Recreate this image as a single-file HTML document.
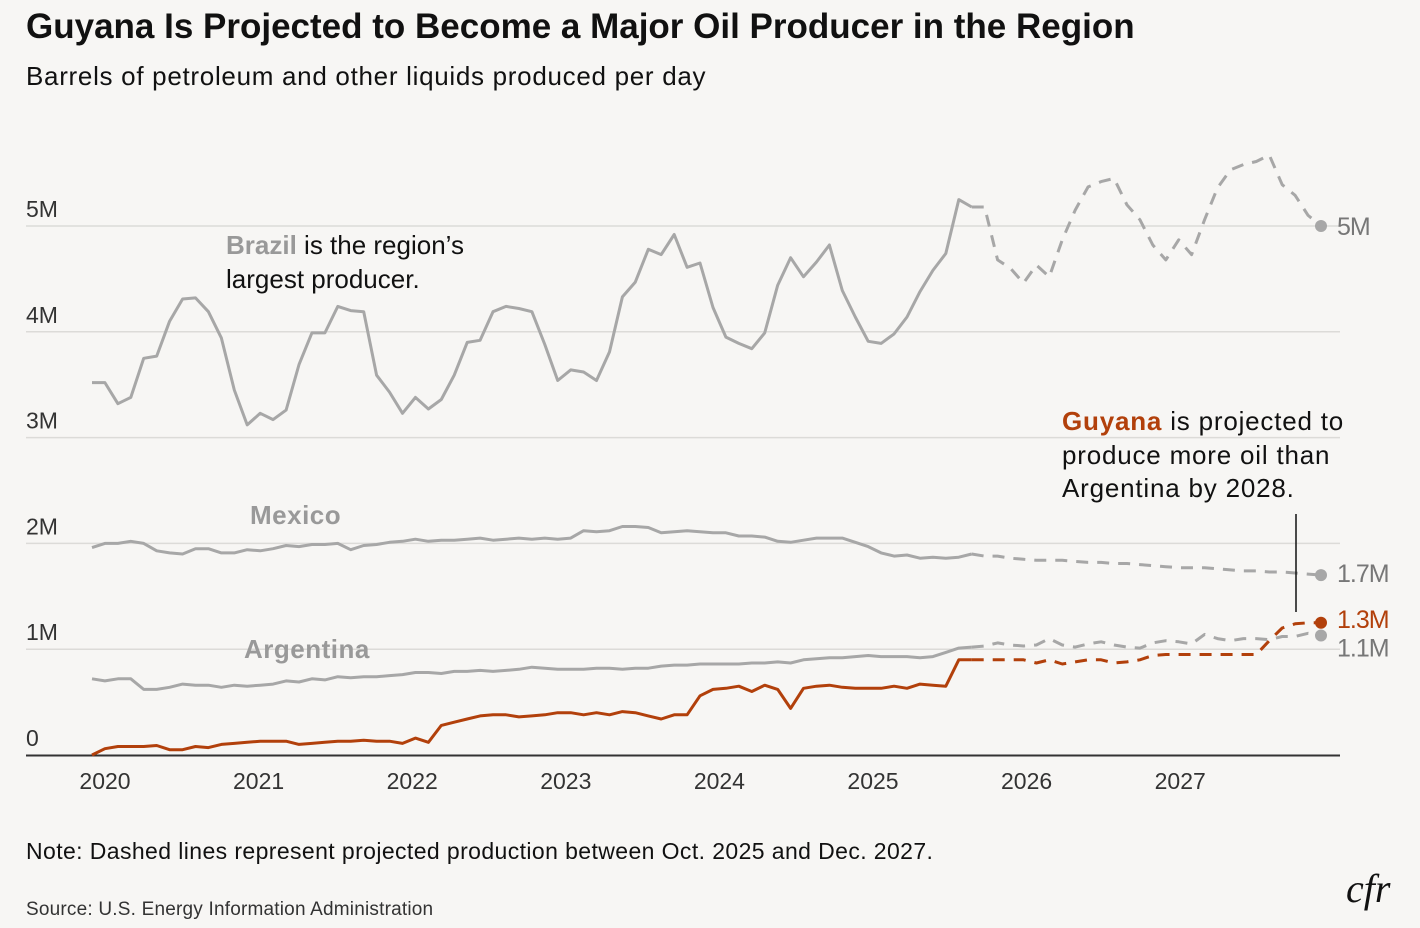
<!DOCTYPE html>
<html><head><meta charset="utf-8"><style>
body{margin:0;background:#f7f6f4;width:1420px;height:928px;overflow:hidden;font-family:"Liberation Sans",sans-serif;}
svg{display:block}
</style></head><body>
<svg id="c" width="1420" height="928">
<text x="26" y="38" font-size="35" font-weight="bold" fill="#111" letter-spacing="0">Guyana Is Projected to Become a Major Oil Producer in the Region</text>
<text x="26" y="85" font-size="26" fill="#111" letter-spacing="0.7">Barrels of petroleum and other liquids produced per day</text>
<g id="grid"></g><g id="series"></g>
<text x="226" y="254" font-size="26" letter-spacing="0"><tspan font-weight="bold" fill="#999">Brazil</tspan><tspan fill="#111"> is the region’s</tspan><tspan x="226" dy="34" fill="#111">largest producer.</tspan></text>
<text x="250" y="524" font-size="26" font-weight="bold" fill="#999" letter-spacing="0.5">Mexico</text>
<text x="244" y="658" font-size="26" font-weight="bold" fill="#999" letter-spacing="0.5">Argentina</text>
<text x="1062" y="430" font-size="26" letter-spacing="0.8"><tspan font-weight="bold" fill="#b2400b">Guyana</tspan><tspan fill="#111"> is projected to</tspan><tspan x="1062" dy="34" fill="#111">produce more oil than</tspan><tspan x="1062" dy="33" fill="#111">Argentina by 2028.</tspan></text>
<line x1="1296" y1="514" x2="1296" y2="612" stroke="#111" stroke-width="1.5"/>
<text x="26" y="859" font-size="23" fill="#111" letter-spacing="0.4">Note: Dashed lines represent projected production between Oct. 2025 and Dec. 2027.</text>
<text x="26" y="915" font-size="19" fill="#333" letter-spacing="0.2">Source: U.S. Energy Information Administration</text>
<text x="1346" y="902" font-size="40" font-style="italic" font-family="Liberation Serif,serif" fill="#111">cfr</text>
</svg>
<script>
const yTicks=[0,1,2,3,4,5];
const yTickLabels=["0","1M","2M","3M","4M","5M"];
const years=["2020","2021","2022","2023","2024","2025","2026","2027"];
const brazil=[3.52,3.52,3.32,3.38,3.75,3.77,4.1,4.31,4.32,4.19,3.94,3.45,3.12,3.23,3.17,3.26,3.69,3.99,3.99,4.24,4.2,4.19,3.59,3.43,3.23,3.38,3.27,3.36,3.59,3.9,3.92,4.19,4.24,4.22,4.19,3.88,3.54,3.64,3.62,3.54,3.81,4.33,4.47,4.78,4.73,4.92,4.61,4.65,4.23,3.95,3.89,3.84,3.99,4.44,4.7,4.52,4.66,4.82,4.39,4.14,3.91,3.89,3.98,4.14,4.38,4.58,4.74,5.25,5.18,5.18,4.68,4.6,4.46,4.63,4.52,4.87,5.15,5.37,5.42,5.45,5.2,5.06,4.82,4.68,4.87,4.73,5.06,5.36,5.53,5.58,5.61,5.67,5.39,5.29,5.1,5.0];
const mexico=[1.96,2.0,2.0,2.02,2.0,1.93,1.91,1.9,1.95,1.95,1.91,1.91,1.94,1.93,1.95,1.98,1.97,1.99,1.99,2.0,1.94,1.98,1.99,2.01,2.02,2.04,2.02,2.03,2.03,2.04,2.05,2.03,2.04,2.05,2.04,2.05,2.04,2.05,2.12,2.11,2.12,2.16,2.16,2.15,2.1,2.11,2.12,2.11,2.1,2.1,2.07,2.07,2.06,2.02,2.01,2.03,2.05,2.05,2.05,2.01,1.97,1.91,1.88,1.89,1.86,1.87,1.86,1.87,1.9,1.88,1.88,1.86,1.85,1.84,1.84,1.84,1.83,1.82,1.82,1.81,1.81,1.8,1.79,1.78,1.77,1.77,1.77,1.76,1.75,1.74,1.74,1.73,1.73,1.72,1.71,1.7];
const argentina=[0.72,0.7,0.72,0.72,0.62,0.62,0.64,0.67,0.66,0.66,0.64,0.66,0.65,0.66,0.67,0.7,0.69,0.72,0.71,0.74,0.73,0.74,0.74,0.75,0.76,0.78,0.78,0.77,0.79,0.79,0.8,0.79,0.8,0.81,0.83,0.82,0.81,0.81,0.81,0.82,0.82,0.81,0.82,0.82,0.84,0.85,0.85,0.86,0.86,0.86,0.86,0.87,0.87,0.88,0.87,0.9,0.91,0.92,0.92,0.93,0.94,0.93,0.93,0.93,0.92,0.93,0.97,1.01,1.02,1.03,1.06,1.04,1.03,1.04,1.1,1.04,1.02,1.05,1.07,1.04,1.02,1.01,1.06,1.08,1.07,1.05,1.14,1.1,1.08,1.1,1.1,1.09,1.12,1.12,1.15,1.13];
const guyana=[0.0,0.06,0.08,0.08,0.08,0.09,0.05,0.05,0.08,0.07,0.1,0.11,0.12,0.13,0.13,0.13,0.1,0.11,0.12,0.13,0.13,0.14,0.13,0.13,0.11,0.16,0.12,0.28,0.31,0.34,0.37,0.38,0.38,0.36,0.37,0.38,0.4,0.4,0.38,0.4,0.38,0.41,0.4,0.37,0.34,0.38,0.38,0.56,0.62,0.63,0.65,0.6,0.66,0.62,0.44,0.63,0.65,0.66,0.64,0.63,0.63,0.63,0.65,0.63,0.67,0.66,0.65,0.9,0.9,0.9,0.9,0.9,0.9,0.87,0.9,0.86,0.88,0.9,0.9,0.87,0.88,0.9,0.94,0.95,0.95,0.95,0.95,0.95,0.95,0.95,0.95,1.08,1.2,1.24,1.25,1.25];
const lastActual=68;
const X=i=>92+i*(1229/95), Y=v=>755-v*105.8;
const NS="http://www.w3.org/2000/svg";
const grid=document.getElementById('grid'), ser=document.getElementById('series');
function mk(tag,parent,attrs){const e=document.createElementNS(NS,tag);for(const k in attrs)e.setAttribute(k,attrs[k]);parent.appendChild(e);return e;}
yTicks.forEach((t,k)=>{
 if(t>0){const l=mk('line',grid,{x1:26,x2:1340,y1:Y(t),y2:Y(t),stroke:'#dcdbd8','stroke-width':1.5});
 
 }
 const tx=mk('text',grid,{x:26,y:Y(t)-9,'font-size':23,fill:'#333'});tx.textContent=yTickLabels[k];
 
 
});
const ax=mk('line',grid,{x1:26,x2:1340,y1:755.5,y2:755.5,stroke:'#333','stroke-width':2});


years.forEach((y,k)=>{const tx=mk('text',grid,{x:105+k*153.6,y:789,'font-size':23,fill:'#333','text-anchor':'middle'});tx.textContent=y;
 
 });
function pts(a,s,e){let p=[];for(let i=s;i<=e;i++)p.push(X(i).toFixed(1)+','+Y(a[i]).toFixed(1));return p.join(' ');}
const defs=[[brazil,'#a7a7a7','brazil','5M','#777'],[mexico,'#a7a7a7','mexico','1.7M','#777'],[argentina,'#a7a7a7','argentina','1.1M','#777'],[guyana,'#b2400b','guyana','1.3M','#b2400b']];
defs.forEach(([a,c,n,lab,lc])=>{
 const s=mk('polyline',ser,{points:pts(a,0,lastActual),fill:'none',stroke:c,'stroke-width':3,'stroke-linejoin':'round'});
 
 
 const d=mk('polyline',ser,{points:pts(a,lastActual,a.length-1),fill:'none',stroke:c,'stroke-width':3,'stroke-dasharray':'12 9','stroke-linejoin':'round'});
 
 
 const L=a.length-1;
 const dot=mk('circle',ser,{cx:X(L),cy:Y(a[L]),r:6,fill:c});
 
 
 let ly=Y(a[L])+9; if(n==='guyana')ly-=4; if(n==='argentina')ly+=12; if(n==='mexico')ly-=2;
 const t=mk('text',ser,{x:1337,y:ly,'font-size':25,fill:lc,'letter-spacing':'-1'});t.textContent=lab;
 
 
});
</script>
</body></html>
